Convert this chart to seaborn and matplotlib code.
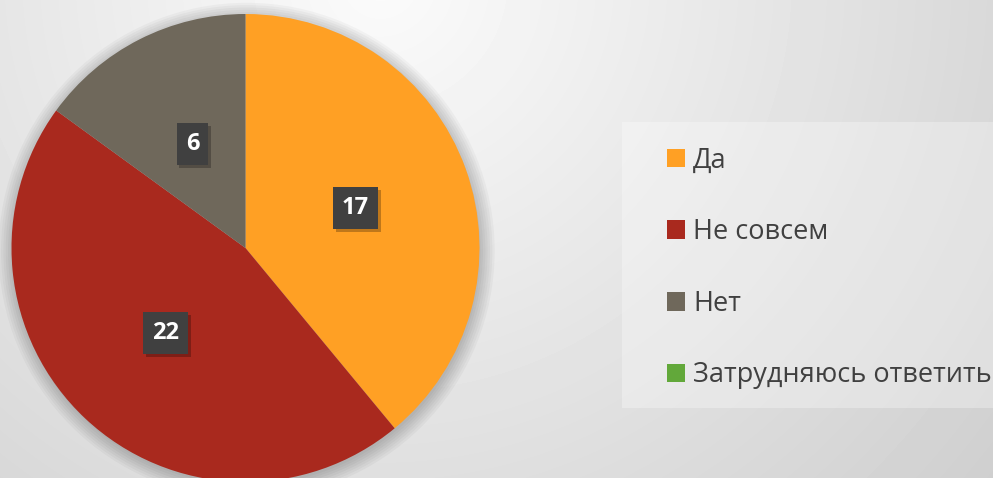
import numpy as np
import matplotlib
matplotlib.use("Agg")
import matplotlib.pyplot as plt
import matplotlib.patheffects as pe
from matplotlib.patches import Rectangle, Circle
import seaborn as sns

# data
answers = ["Да", "Не совсем", "Нет", "Затрудняюсь ответить"]
counts = [17, 22, 6, 0]          # numbers printed on the slices
shares = [39, 46, 15, 0]
colors = ["#FFA024", "#A9291E", "#6F685B", "#62A83A"]

sns.set_theme(style="white")
plt.rcParams["font.family"] = ["Open Sans", "DejaVu Sans"]

W, H = 993, 478
fig = plt.figure(figsize=(W / 100, H / 100), dpi=100)

# soft grey background
bg = fig.add_axes([0, 0, 1, 1], zorder=-10)
yy, xx = np.mgrid[0:H, 0:W]
dist = np.hypot(xx - 380, yy + 20)
shade = np.clip(0.985 - 0.00022 * dist, 0, 1)
bg.imshow(shade, cmap="gray", vmin=0, vmax=1, aspect="auto",
          extent=[0, W, H, 0])
bg.set_axis_off()

# pie, centre at (245.5, 248) px, radius 234 px
R = 234
cx, cy = 245.5, H - 248
lim = 1.25
side = 2 * R * lim
ax = fig.add_axes([(cx - side / 2) / W, (cy - side / 2) / H, side / W, side / H])

# shadow round the pie
for r in np.linspace(1.0, 1.06, 7):
    ax.add_patch(Circle((0.005, -0.012), r, color="black", alpha=0.03, lw=0, zorder=0))

wedges, texts = ax.pie(
    shares, colors=colors, startangle=90, counterclock=False,
    wedgeprops=dict(linewidth=0),
)
ax.set_xlim(-lim, lim)
ax.set_ylim(-lim, lim)
ax.set_axis_off()

# value boxes in the middle of each slice
for w, n in zip(wedges, counts):
    if not n:
        continue
    a = np.deg2rad((w.theta1 + w.theta2) / 2)
    t = ax.text(0.5 * np.cos(a), 0.5 * np.sin(a), str(n), ha="center", va="center",
                color="white", fontsize=17, fontweight="bold")
    t.set_bbox(dict(boxstyle="square,pad=0.38", fc="#404040", ec="none"))
    t.get_bbox_patch().set_path_effects(
        [pe.withSimplePatchShadow(offset=(2, -2), shadow_rgbFace="black", alpha=0.25)])

# legend panel
panel = Rectangle((622 / W, (H - 408) / H), (W - 622) / W, (408 - 122) / H,
                  transform=fig.transFigure, fc="white", alpha=0.3, lw=0, zorder=-5)
fig.add_artist(panel)

fig.legend(wedges, answers, loc="center left",
           bbox_to_anchor=(667 / W, 1 - 268 / H),
           frameon=False, fontsize=19.5, labelcolor="#404040",
           handlelength=0.67, handleheight=0.67, handletextpad=0.3,
           labelspacing=1.61, borderpad=0, borderaxespad=0)

fig.savefig("out.png", dpi=100)
